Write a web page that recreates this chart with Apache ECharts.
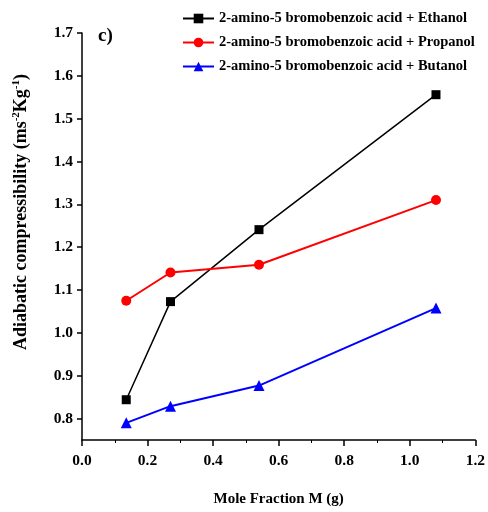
<!DOCTYPE html>
<html>
<head>
<meta charset="utf-8">
<script src="https://cdn.jsdelivr.net/npm/echarts@6/dist/echarts.min.js"></script>
<style>
  html, body { margin: 0; padding: 0; background: #fff; }
  #chart { width: 488px; height: 512px; }
</style>
</head>
<body>
<div id="chart"></div>
<script>
const moleFraction = [0.135, 0.27, 0.54, 1.08]
const ethanol = [0.844, 1.073, 1.241, 1.556]
const propanol = [1.075, 1.141, 1.159, 1.310]
const butanol = [0.790, 0.829, 0.877, 1.058]
const yTicks = [0.8, 0.9, 1.0, 1.1, 1.2, 1.3, 1.4, 1.5, 1.6, 1.7]

const seriesNames = [
    '2-amino-5 bromobenzoic acid + Ethanol',
    '2-amino-5 bromobenzoic acid + Propanol',
    '2-amino-5 bromobenzoic acid + Butanol'
]

const font = 'Liberation Serif, Times New Roman, serif'
const pair = (ys) => moleFraction.map((x, i) => [x, ys[i]])

const chart = echarts.init(document.getElementById('chart'))
chart.setOption({
    animation: false,
    backgroundColor: '#fff',
    grid: { left: 82, right: 10, top: 33, bottom: 67 },
    graphic: [
        {
            type: 'text',
            left: 98,
            top: 27,
            style: { text: 'c)', font: 'bold 19px ' + font, fill: '#000' }
        },
        {
            // y axis title, placed like the original (a bit above centre)
            type: 'text',
            x: 21,
            y: 212,
            rotation: Math.PI / 2,
            style: {
                text: '{b|Adiabatic compressibility (ms}{s|-2}{b|Kg}{s|-1}{b|)}',
                align: 'center',
                verticalAlign: 'middle',
                rich: {
                    b: { fontFamily: font, fontWeight: 'bold', fontSize: 18, fill: '#000' },
                    s: { fontFamily: font, fontWeight: 'bold', fontSize: 11, fill: '#000', padding: [0, 0, 10, 0] }
                }
            }
        }
    ],
    legend: {
        orient: 'vertical',
        left: 177,
        top: 6,
        itemWidth: 31,
        itemHeight: 12,
        itemGap: 9,
        textStyle: { fontFamily: font, fontWeight: 'bold', fontSize: 14.5, color: '#000' },
        data: seriesNames
    },
    xAxis: {
        type: 'value',
        min: 0,
        max: 1.2,
        interval: 0.2,
        name: 'Mole Fraction M (g)',
        nameLocation: 'middle',
        nameGap: 52,
        nameTextStyle: { fontFamily: font, fontWeight: 'bold', fontSize: 15, color: '#000' },
        axisLine: { lineStyle: { color: '#000', width: 1.5 } },
        axisTick: { inside: false, length: 6, lineStyle: { color: '#000', width: 1.5 } },
        minorTick: { show: true, splitNumber: 2, length: 3, lineStyle: { color: '#000', width: 1 } },
        axisLabel: {
            fontFamily: font, fontWeight: 'bold', fontSize: 15.5, color: '#000', margin: 13,
            formatter: v => v.toFixed(1)
        },
        splitLine: { show: false }
    },
    yAxis: {
        type: 'value',
        min: 0.75,
        max: 1.7,
        axisLine: { show: true, lineStyle: { color: '#000', width: 1.5 } },
        axisTick: { show: true, length: 5, customValues: yTicks, lineStyle: { color: '#000', width: 1.5 } },
        axisLabel: {
            fontFamily: font, fontWeight: 'bold', fontSize: 15.5, color: '#000', margin: 9,
            customValues: yTicks,
            formatter: v => v.toFixed(1)
        },
        splitLine: { show: false }
    },
    series: [
        {
            name: seriesNames[0],
            type: 'line',
            data: pair(ethanol),
            symbol: 'rect',
            symbolSize: 9,
            lineStyle: { color: '#000', width: 1.5 },
            itemStyle: { color: '#000' }
        },
        {
            name: seriesNames[1],
            type: 'line',
            data: pair(propanol),
            symbol: 'circle',
            symbolSize: 10,
            lineStyle: { color: '#ff0000', width: 2 },
            itemStyle: { color: '#ff0000' }
        },
        {
            name: seriesNames[2],
            type: 'line',
            data: pair(butanol),
            symbol: 'triangle',
            symbolSize: 11,
            lineStyle: { color: '#0000ff', width: 2 },
            itemStyle: { color: '#0000ff' }
        }
    ]
})
</script>
</body>
</html>
